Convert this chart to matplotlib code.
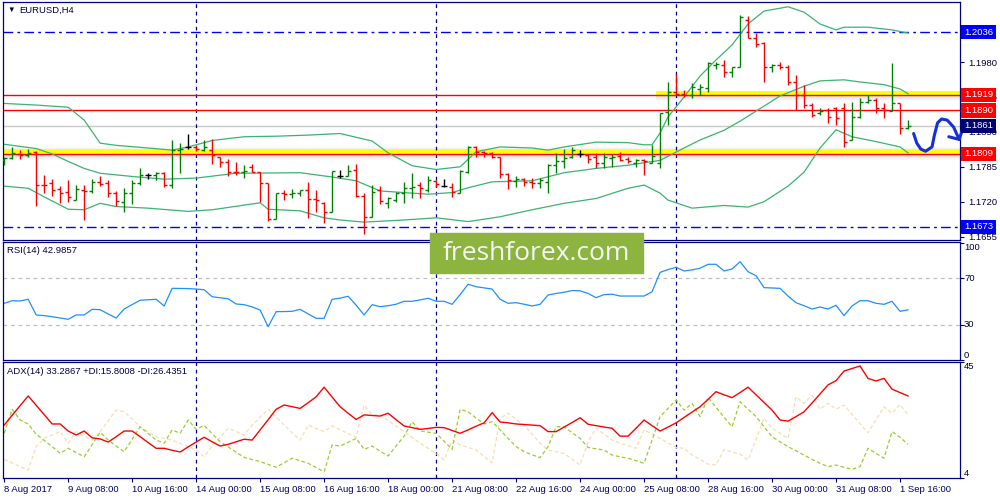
import numpy as np
import matplotlib.pyplot as plt
from matplotlib.transforms import blended_transform_factory, ScaledTranslation
from matplotlib.patches import Rectangle

plt.rcParams['font.family'] = ['Liberation Sans', 'DejaVu Sans']

# EURUSD H4 bars, 8 Aug 2017 00:00 .. 1 Sep 2017 20:00
opens = [1.1798, 1.1801, 1.1809, 1.1807, 1.1813, 1.1752, 1.1754, 1.1743, 1.1738, 1.1724,
         1.1742, 1.1740, 1.1757, 1.1755, 1.1736, 1.1720, 1.1737, 1.1754, 1.1770, 1.1770,
         1.1774, 1.1752, 1.1816, 1.1821, 1.1822, 1.1816, 1.1817, 1.1803, 1.1794, 1.1776,
         1.1775, 1.1785, 1.1776, 1.1754, 1.1688, 1.1737, 1.1735, 1.1737, 1.1741, 1.1725,
         1.1717, 1.1700, 1.1767, 1.1767, 1.1779, 1.1731, 1.1692, 1.1741, 1.1718, 1.1724,
         1.1736, 1.1745, 1.1751, 1.1742, 1.1759, 1.1749, 1.1748, 1.1737, 1.1776, 1.1821,
         1.1813, 1.1811, 1.1803, 1.1772, 1.1759, 1.1762, 1.1757, 1.1754, 1.1757, 1.1788,
         1.1795, 1.1804, 1.1808, 1.1807, 1.1804, 1.1792, 1.1801, 1.1806, 1.1799, 1.1793,
         1.1797, 1.1793, 1.1792, 1.1887, 1.1925, 1.1921, 1.1918, 1.1929, 1.1931, 1.1975,
         1.1975, 1.1962, 1.1971, 1.2058, 1.2025, 1.2015, 1.1970, 1.1975, 1.1971, 1.1942,
         1.1919, 1.1901, 1.1885, 1.1891, 1.1894, 1.1894, 1.1835, 1.1878, 1.1906, 1.1909,
         1.1894, 1.1889, 1.1903, 1.1857]
highs = [1.1803, 1.1822, 1.1816, 1.1818, 1.1815, 1.1769, 1.1762, 1.1750, 1.1760, 1.1751,
         1.1751, 1.1762, 1.1767, 1.1760, 1.1740, 1.1746, 1.1760, 1.1782, 1.1774, 1.1775,
         1.1776, 1.1834, 1.1829, 1.1846, 1.1826, 1.1834, 1.1836, 1.1804, 1.1799, 1.1794,
         1.1788, 1.1791, 1.1776, 1.1755, 1.1737, 1.1742, 1.1744, 1.1742, 1.1757, 1.1742,
         1.1720, 1.1778, 1.1779, 1.1788, 1.1791, 1.1737, 1.1751, 1.1749, 1.1728, 1.1739,
         1.1757, 1.1773, 1.1757, 1.1767, 1.1760, 1.1762, 1.1754, 1.1779, 1.1824, 1.1824,
         1.1815, 1.1813, 1.1804, 1.1773, 1.1768, 1.1764, 1.1764, 1.1764, 1.1791, 1.1810,
         1.1819, 1.1822, 1.1816, 1.1809, 1.1810, 1.1810, 1.1809, 1.1813, 1.1804, 1.1799,
         1.1799, 1.1826, 1.1885, 1.1942, 1.1958, 1.1928, 1.1941, 1.1939, 1.1981, 1.1981,
         1.1984, 1.1971, 1.2068, 1.2066, 1.2034, 1.2018, 1.1976, 1.1981, 1.1975, 1.1956,
         1.1937, 1.1903, 1.1894, 1.1895, 1.1896, 1.1903, 1.1906, 1.1913, 1.1919, 1.1913,
         1.1903, 1.1978, 1.1904, 1.1873]
lows = [1.1788, 1.1799, 1.1799, 1.1804, 1.1712, 1.1737, 1.1731, 1.1717, 1.1720, 1.1723,
        1.1686, 1.1737, 1.1750, 1.1729, 1.1712, 1.1701, 1.1716, 1.1751, 1.1762, 1.1760,
        1.1748, 1.1745, 1.1774, 1.1818, 1.1815, 1.1815, 1.1790, 1.1784, 1.1768, 1.1769,
        1.1765, 1.1775, 1.1719, 1.1685, 1.1687, 1.1723, 1.1726, 1.1731, 1.1689, 1.1700,
        1.1681, 1.1700, 1.1764, 1.1767, 1.1729, 1.1659, 1.1692, 1.1716, 1.1708, 1.1720,
        1.1718, 1.1726, 1.1726, 1.1739, 1.1748, 1.1748, 1.1728, 1.1737, 1.1774, 1.1804,
        1.1804, 1.1801, 1.1764, 1.1743, 1.1748, 1.1749, 1.1746, 1.1746, 1.1737, 1.1774,
        1.1783, 1.1801, 1.1804, 1.1793, 1.1782, 1.1782, 1.1785, 1.1795, 1.1792, 1.1785,
        1.1770, 1.1792, 1.1782, 1.1862, 1.1919, 1.1915, 1.1914, 1.1919, 1.1924, 1.1968,
        1.1953, 1.1953, 1.1970, 1.2025, 1.2009, 1.1943, 1.1962, 1.1967, 1.1937, 1.1891,
        1.1894, 1.1878, 1.1881, 1.1866, 1.1863, 1.1821, 1.1835, 1.1875, 1.1903, 1.1885,
        1.1875, 1.1888, 1.1847, 1.1855]
closes = [1.1801, 1.1811, 1.1807, 1.1811, 1.1751, 1.1751, 1.1742, 1.1737, 1.1729, 1.1743,
          1.1740, 1.1757, 1.1753, 1.1736, 1.1722, 1.1737, 1.1754, 1.1770, 1.1770, 1.1773,
          1.1752, 1.1816, 1.1819, 1.1821, 1.1818, 1.1822, 1.1807, 1.1794, 1.1776, 1.1775,
          1.1778, 1.1776, 1.1754, 1.1687, 1.1737, 1.1735, 1.1737, 1.1741, 1.1725, 1.1724,
          1.1701, 1.1777, 1.1767, 1.1778, 1.1731, 1.1692, 1.1739, 1.1722, 1.1726, 1.1737,
          1.1745, 1.1748, 1.1745, 1.1760, 1.1753, 1.1749, 1.1739, 1.1778, 1.1822, 1.1813,
          1.1811, 1.1804, 1.1772, 1.1760, 1.1762, 1.1757, 1.1754, 1.1760, 1.1788, 1.1795,
          1.1801, 1.1816, 1.1808, 1.1799, 1.1793, 1.1803, 1.1804, 1.1797, 1.1795, 1.1797,
          1.1795, 1.1805, 1.1885, 1.1925, 1.1921, 1.1918, 1.1934, 1.1934, 1.1978, 1.1977,
          1.1962, 1.1971, 1.2064, 1.2025, 1.2013, 1.1971, 1.1975, 1.1971, 1.1942, 1.1919,
          1.1901, 1.1881, 1.1889, 1.1878, 1.1875, 1.1832, 1.1878, 1.1906, 1.1909, 1.1894,
          1.1891, 1.1903, 1.1857, 1.1861]

# Bollinger bands (20), read at these bar indexes
bb_up_x = [0, 4, 8, 10, 12, 14, 18, 21, 23, 26, 30, 34, 38, 42, 46, 48, 51, 54, 57, 59,
           62, 66, 68, 70, 74, 78, 80, 81, 82, 83, 85, 87, 89, 91, 93, 95, 98, 100, 102, 104,
           105, 108, 111, 113]
bb_up = [1.1903, 1.1900, 1.1896, 1.1872, 1.1829, 1.1825, 1.1820, 1.1816, 1.1822, 1.1834,
         1.1841, 1.1842, 1.1844, 1.1847, 1.1833, 1.1811, 1.1787, 1.1780, 1.1785, 1.1813,
         1.1822, 1.1820, 1.1816, 1.1822, 1.1831, 1.1830, 1.1826, 1.1826, 1.1848, 1.1878,
         1.1915, 1.1954, 1.1984, 1.2012, 1.2051, 1.2075, 1.2083, 1.2073, 1.2051, 1.2040,
         1.2045, 1.2045, 1.2040, 1.2034]
bb_mid_x = [0, 4, 6, 8, 10, 12, 16, 20, 24, 29, 37, 41, 44, 47, 51, 53, 56, 58, 61, 66,
            70, 74, 78, 82, 85, 87, 90, 92, 95, 97, 100, 102, 105, 107, 110, 112, 113]
bb_mid = [1.1827, 1.1819, 1.1809, 1.1795, 1.1782, 1.1773, 1.1767, 1.1762, 1.1764, 1.1773,
          1.1774, 1.1766, 1.1759, 1.1740, 1.1736, 1.1734, 1.1737, 1.1746, 1.1757, 1.1759,
          1.1774, 1.1782, 1.1788, 1.1797, 1.1820, 1.1835, 1.1853, 1.1870, 1.1898, 1.1917,
          1.1935, 1.1945, 1.1947, 1.1943, 1.1938, 1.1930, 1.1921]
bb_lo_x = [0, 3, 5, 8, 10, 12, 14, 18, 23, 26, 32, 33, 37, 40, 42, 45, 50, 54, 58, 62,
           66, 70, 74, 78, 80, 82, 83, 86, 90, 93, 95, 98, 100, 102, 104, 106, 109, 112, 113]
bb_lo = [1.1749, 1.1745, 1.1729, 1.1706, 1.1705, 1.1717, 1.1711, 1.1708, 1.1702, 1.1705,
         1.1718, 1.1706, 1.1703, 1.1690, 1.1686, 1.1682, 1.1686, 1.1690, 1.1683, 1.1692,
         1.1705, 1.1717, 1.1726, 1.1745, 1.1751, 1.1736, 1.1723, 1.1708, 1.1713, 1.1710,
         1.1720, 1.1749, 1.1775, 1.1820, 1.1854, 1.1841, 1.1832, 1.1822, 1.1811]

rsi = [48.6, 50.8, 50.6, 52.0, 38.6, 38.0, 37.1, 36.0, 34.9, 38.6,
       38.6, 43.4, 43.1, 39.4, 36.0, 43.7, 47.5, 51.2, 51.6, 52.0,
       46.3, 61.4, 61.3, 61.2, 60.8, 60.2, 54.2, 53.3, 52.5, 48.0,
       47.4, 45.5, 42.8, 28.5, 41.4, 41.5, 41.7, 43.4, 39.5, 35.7,
       35.7, 52.0, 53.0, 54.6, 47.0, 38.6, 47.4, 45.7, 46.5, 47.8,
       50.3, 50.3, 51.5, 52.9, 50.3, 50.3, 47.7, 56.0, 64.9, 62.8,
       61.8, 60.8, 52.0, 48.6, 49.1, 47.8, 46.3, 47.7, 55.7, 57.0,
       58.0, 59.5, 59.3, 57.0, 53.4, 56.0, 56.4, 54.8, 54.8, 54.8,
       54.8, 58.5, 75.1, 77.5, 79.4, 76.3, 77.2, 78.6, 82.0, 82.0,
       76.3, 78.0, 84.2, 75.7, 72.2, 62.0, 61.7, 61.4, 54.8, 49.1,
       46.5, 43.7, 45.4, 43.7, 46.9, 38.0, 46.3, 50.8, 50.8, 48.6,
       47.7, 50.3, 41.7, 43.0]

adx = [22.7, 26.2, 29.6, 33.0, 29.7, 26.4, 23.1, 23.1, 20.6, 19.2,
       20.6, 18.2, 17.8, 16.7, 18.6, 20.6, 20.6, 18.6, 16.5, 14.5,
       14.5, 13.8, 13.2, 15.0, 16.7, 18.4, 16.8, 15.3, 15.9, 16.8,
       17.7, 17.4, 21.0, 24.6, 28.3, 29.8, 29.2, 28.6, 30.6, 32.7,
       36.1, 32.6, 29.2, 26.9, 24.7, 26.3, 26.1, 25.9, 26.9, 24.6,
       22.4, 21.8, 21.2, 21.5, 21.9, 21.8, 20.8, 19.8, 21.0, 22.3,
       23.5, 27.1, 23.8, 23.5, 23.1, 22.9, 22.7, 22.5, 20.4, 20.4,
       22.0, 23.6, 25.3, 23.0, 22.5, 22.0, 21.6, 18.8, 18.8, 21.6,
       24.5, 22.5, 20.6, 22.0, 23.5, 25.4, 27.3, 29.2, 31.8, 34.5,
       33.4, 32.4, 34.2, 36.1, 33.4, 30.7, 28.0, 24.5, 24.1, 25.7,
       27.4, 30.5, 33.7, 36.9, 38.4, 41.8, 42.7, 43.6, 39.2, 38.3,
       39.2, 35.4, 34.2, 33.0]
plus_di = [19.8, 28.3, 24.5, 23.1, 19.5, 17.3, 15.1, 12.7, 14.5, 13.0,
           11.5, 15.8, 20.2, 17.4, 15.3, 13.3, 17.7, 22.1, 19.7, 17.4,
           16.3, 21.0, 19.8, 24.5, 21.2, 22.6, 19.7, 16.8, 15.0, 13.1,
           11.3, 10.5, 9.8, 8.8, 7.8, 9.4, 11.0, 10.1, 9.2, 7.7,
           6.2, 15.7, 15.3, 16.6, 18.0, 14.1, 15.3, 13.5, 11.8, 15.3,
           18.8, 23.9, 20.7, 20.2, 19.8, 17.0, 14.1, 28.3, 27.4, 25.2,
           23.1, 23.9, 21.0, 18.0, 15.1, 13.3, 12.2, 11.2, 15.1, 22.1,
           22.1, 20.0, 18.0, 14.8, 14.3, 13.9, 12.1, 11.5, 11.0, 10.1,
           9.2, 17.4, 25.7, 28.6, 31.6, 28.0, 30.4, 25.7, 32.5, 29.0,
           25.5, 22.1, 31.0, 28.3, 25.7, 22.1, 18.6, 16.8, 15.1, 13.6,
           12.1, 10.6, 9.2, 8.0, 8.6, 7.8, 7.1, 8.0, 14.5, 12.7,
           11.0, 20.4, 18.4, 15.9]
minus_di = [10.6, 9.3, 8.0, 6.8, 15.1, 18.0, 19.2, 20.4, 16.3, 20.4,
            18.9, 17.4, 20.4, 24.2, 28.0, 27.4, 24.8, 22.1, 20.3, 18.6,
            18.0, 17.4, 16.2, 15.1, 13.9, 11.5, 15.3, 18.4, 21.6, 20.4,
            19.2, 22.7, 25.5, 28.3, 25.5, 22.7, 20.0, 17.4, 22.7, 21.5,
            20.4, 22.4, 21.1, 19.7, 18.4, 29.8, 26.3, 26.3, 24.3, 22.3,
            20.4, 18.3, 16.3, 14.5, 12.7, 10.4, 17.4, 15.7, 14.8, 13.9,
            11.6, 9.4, 25.1, 26.9, 24.8, 22.7, 19.5, 16.3, 13.9, 13.3,
            12.7, 10.6, 8.6, 16.8, 21.6, 19.5, 17.4, 16.3, 15.4, 14.5,
            21.0, 19.5, 18.0, 16.4, 14.8, 14.5, 12.1, 10.5, 8.9, 8.6,
            14.1, 13.2, 12.4, 10.4, 17.7, 25.1, 21.6, 19.8, 18.0, 32.7,
            30.4, 33.3, 28.3, 30.4, 28.3, 29.8, 26.5, 23.2, 20.0, 24.6,
            29.2, 26.9, 30.0, 26.3]

date_ticks = [0, 8, 16, 24, 32, 40, 48, 56, 64, 72, 80, 88, 96, 104, 112]
date_labels = ['8 Aug 2017', '9 Aug 08:00', '10 Aug 16:00', '14 Aug 00:00', '15 Aug 08:00',
               '16 Aug 16:00', '18 Aug 00:00', '21 Aug 08:00', '22 Aug 16:00', '24 Aug 00:00',
               '25 Aug 08:00', '28 Aug 16:00', '30 Aug 00:00', '31 Aug 08:00', '1 Sep 16:00']
week_starts = [24, 54, 84]

price_ticks = [1.1980, 1.1915, 1.1850, 1.1785, 1.1720, 1.1655]
blue_levels = [1.2036, 1.1673]
red_levels = [1.1919, 1.1890, 1.1809]
bid = 1.1861

# hand drawn forecast curve
arrow_x = [113.7, 114.1, 114.6, 115.2, 116.0, 116.3, 116.7, 117.2, 117.9, 118.7, 119.4]
arrow_y = [1.1847, 1.1829, 1.1818, 1.1814, 1.1822, 1.1844, 1.1867, 1.1874, 1.1872, 1.1859, 1.1836]
head_x = [118.1, 119.4, 119.9]
head_y = [1.1841, 1.1836, 1.1858]

navy = '#000080'
fs = 6.8

fig = plt.figure(figsize=(10, 5), dpi=100)
ax = fig.add_axes([0.003, 0.52, 0.957, 0.476])
ax_rsi = fig.add_axes([0.003, 0.28, 0.957, 0.236])
ax_adx = fig.add_axes([0.003, 0.044, 0.957, 0.232])

x = np.arange(len(closes))
xlim = (-0.15, 119.5)

for a in (ax, ax_rsi, ax_adx):
    a.set_xlim(*xlim)
    for s in a.spines.values():
        s.set_color(navy)
        s.set_linewidth(0.9)
    for w in week_starts:
        a.axvline(w, color=navy, lw=0.9, ls=(0, (3, 3)), zorder=2)
    a.yaxis.tick_right()
    a.tick_params(axis='y', length=3, width=0.8, color=navy, labelsize=fs,
                  labelcolor='#000033', pad=3)

# ---- main price panel
ax.set_ylim(1.16487, 1.20919)
ax.set_xticks([])

# yellow highlight boxes with soft shadow
ax.axhspan(1.1809, 1.1818, color='#FFFF00', lw=0, zorder=1)
ax.add_patch(Rectangle((81.5, 1.1919), 40, 0.0008, color='#FFFF00', lw=0, zorder=1))
for k in range(6):
    al = 0.28 * (1 - k / 6)
    ax.axhspan(1.1809 - (k + 1) * 0.00019, 1.1809 - k * 0.00019, color='#808080',
               alpha=al, lw=0, zorder=1)
    ax.add_patch(Rectangle((81.5, 1.1919 - (k + 1) * 0.00019), 40, 0.00019,
                           color='#808080', alpha=al, lw=0, zorder=1))
    ax.axhspan(1.1818 + k * 0.00012, 1.1818 + (k + 1) * 0.00012, color='#808080',
               alpha=al * 0.3, lw=0, zorder=1)

ax.axhline(bid, color='#C8C8C8', lw=1, zorder=1.5)
for lv in red_levels:
    ax.axhline(lv, color='#FF0000', lw=1, zorder=2)
for lv in blue_levels:
    ax.axhline(lv, color='#0000FF', lw=1, ls=(0, (7, 3, 2, 3)), zorder=2)

bb_col = '#3CB371'
ax.plot(bb_up_x, bb_up, color=bb_col, lw=0.9, zorder=2.5)
ax.plot(bb_mid_x, bb_mid, color=bb_col, lw=0.9, zorder=2.5)
ax.plot(bb_lo_x, bb_lo, color=bb_col, lw=0.9, zorder=2.5)

o = np.array(opens)
c = np.array(closes)
cols = np.where(c > o, '#008000', np.where(c < o, '#FF0000', '#000000'))
ax.vlines(x, lows, highs, colors=cols, lw=1.0, zorder=3)
ax.hlines(o, x - 0.4, x, colors=cols, lw=1.0, zorder=3)
ax.hlines(c, x, x + 0.4, colors=cols, lw=1.0, zorder=3)

ax.plot(arrow_x, arrow_y, color='#1530D8', lw=2.2, solid_capstyle='round',
        solid_joinstyle='round', clip_on=False, zorder=6)
ax.plot(head_x, head_y, color='#1530D8', lw=2.2, solid_capstyle='round',
        solid_joinstyle='round', clip_on=False, zorder=6)

ax.set_yticks(price_ticks + blue_levels + red_levels + [bid])
ax.set_yticklabels([f'{v:.4f}' for v in price_ticks] + [''] * 6)

trans = blended_transform_factory(ax.transAxes, ax.transData) + \
    ScaledTranslation(0.04, 0, fig.dpi_scale_trans)
boxes = [(1.2036, '#0000FF'), (1.1673, '#0000FF'), (1.1919, '#FF0000'),
         (1.1890, '#FF0000'), (1.1809, '#FF0000'), (bid, '#00006E')]
for lv, bc in boxes:
    ax.text(1.0, lv, f'{lv:.4f}', transform=trans, ha='left', va='center',
            fontsize=fs, color='white', zorder=10,
            bbox=dict(boxstyle='square,pad=0.28', fc=bc, ec='none'))

fig.text(0.007, 0.980, '\u25bc', fontsize=5.5, color='#000040', va='center')
fig.text(0.019, 0.980, 'EURUSD,H4', fontsize=fs, color='#000040', va='center')

# ---- RSI panel
ax_rsi.set_ylim(0, 101.1)
ax_rsi.set_xticks([])
ax_rsi.axhline(70, color='#C0C0C0', lw=0.9, ls=(0, (3, 3)))
ax_rsi.axhline(30, color='#C0C0C0', lw=0.9, ls=(0, (3, 3)))
ax_rsi.plot(x, rsi, color='#1E90FF', lw=0.9)
ax_rsi.set_yticks([0, 30, 70, 100])
ax_rsi.set_yticklabels([])
tr_rsi = blended_transform_factory(ax_rsi.transAxes, ax_rsi.transData) + \
    ScaledTranslation(0.04, 0, fig.dpi_scale_trans)
for v, va in [(100, 'top'), (70, 'center'), (30, 'center'), (0, 'bottom')]:
    ax_rsi.text(1.0, v, str(v), transform=tr_rsi, ha='left', va=va, fontsize=fs,
                color='#000033')
ax_rsi.text(0.004, 0.93, 'RSI(14) 42.9857', transform=ax_rsi.transAxes, fontsize=fs,
            color='#000040', va='center')

# ---- ADX panel
ax_adx.set_ylim(4, 45)
ax_adx.plot(x, minus_di, color='#F5DEB3', lw=0.9, ls=(0, (3, 2)))
ax_adx.plot(x, plus_di, color='#9ACD32', lw=0.9, ls=(0, (3, 2)))
ax_adx.plot(x, adx, color='#FF0000', lw=1.0)
ax_adx.set_yticks([4, 45])
ax_adx.set_yticklabels([])
tr_adx = blended_transform_factory(ax_adx.transAxes, ax_adx.transData) + \
    ScaledTranslation(0.04, 0, fig.dpi_scale_trans)
ax_adx.text(1.0, 45, '45', transform=tr_adx, ha='left', va='top', fontsize=fs, color='#000033')
ax_adx.text(1.0, 4, '4', transform=tr_adx, ha='left', va='bottom', fontsize=fs, color='#000033')
ax_adx.text(0.004, 0.915, 'ADX(14) 33.2867 +DI:15.8008 -DI:26.4351', transform=ax_adx.transAxes,
            fontsize=fs, color='#000040', va='center')

ax_adx.set_xticks(date_ticks)
ax_adx.set_xticklabels(date_labels)
ax_adx.tick_params(axis='x', length=3, width=0.8, color=navy, labelsize=fs,
                   labelcolor='#000066', pad=2)
for lbl in ax_adx.get_xticklabels():
    lbl.set_horizontalalignment('left')

# watermark
fig.patches.append(Rectangle((0.430, 0.454), 0.213, 0.080, transform=fig.transFigure,
                             color='#8CB43F', zorder=5))
fig.text(0.5365, 0.494, 'freshforex.com', fontsize=19, color='#F5F5F5',
         family=['Open Sans', 'DejaVu Sans'], ha='center', va='center', zorder=6)

fig.savefig('out.png', dpi=100, facecolor='white')
